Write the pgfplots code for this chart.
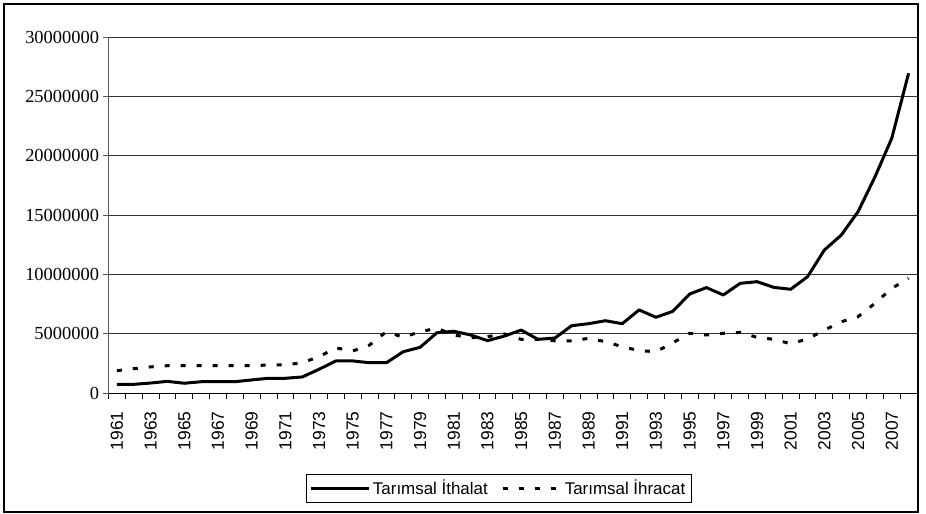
\documentclass[border=0pt]{standalone}
\usepackage{fontspec}
\setmainfont{Liberation Serif}
\setsansfont{Liberation Sans}
\usepackage{pgfplots}
\usepackage{pgfplotstable}
\pgfplotsset{compat=1.18}

\pgfplotstableread{
year ithalat ihracat
1961 730000 1880000
1962 730000 2050000
1963 840000 2200000
1964 980000 2300000
1965 820000 2300000
1966 950000 2300000
1967 950000 2300000
1968 950000 2300000
1969 1100000 2300000
1970 1240000 2360000
1971 1240000 2360000
1972 1350000 2550000
1973 2000000 3060000
1974 2700000 3800000
1975 2700000 3540000
1976 2550000 4040000
1977 2550000 5170000
1978 3480000 4690000
1979 3850000 5170000
1980 5080000 5450000
1981 5200000 4890000
1982 4890000 4660000
1983 4410000 4750000
1984 4800000 4970000
1985 5300000 4520000
1986 4520000 4520000
1987 4630000 4400000
1988 5670000 4400000
1989 5840000 4600000
1990 6090000 4330000
1991 5840000 3900000
1992 7000000 3570000
1993 6380000 3480000
1994 6880000 4230000
1995 8340000 5030000
1996 8880000 4890000
1997 8260000 5030000
1998 9240000 5110000
1999 9380000 4690000
2000 8900000 4520000
2001 8740000 4150000
2002 9800000 4550000
2003 12050000 5300000
2004 13300000 6000000
2005 15280000 6430000
2006 18200000 7550000
2007 21460000 8820000
2008 26940000 9660000
}\datatable

\begin{document}
\begin{tikzpicture}[x=1bp,y=1bp]
\path[use as bounding box] (0,0) rectangle (926,514);
\draw[line width=1.3bp] (4,2) rectangle (918,510);
\begin{axis}[
  at={(108.5bp,121bp)}, anchor=south west,
  scale only axis, width=808.5bp, height=356bp,
  xmin=1960.5, xmax=2008.5,
  ymin=0, ymax=30000000,
  scaled y ticks=false,
  axis x line*=bottom, axis y line*=left,
  x axis line style={black, line width=0.9bp, -},
  y axis line style={black!65, line width=0.9bp, -},
  tick align=outside,
  xtick={1961,1963,...,2007},
  xticklabels={1961,1963,1965,1967,1969,1971,1973,1975,1977,1979,1981,1983,1985,1987,1989,1991,1993,1995,1997,1999,2001,2003,2005,2007},
  minor xtick={1960.5,1961.5,...,2008.5},
  major x tick style={draw=none},
  minor x tick style={draw=black, line width=0.8bp},
  minor tick length=6bp,
  major tick length=6bp,
  ytick={0,5000000,10000000,15000000,20000000,25000000,30000000},
  yticklabels={0,5000000,10000000,15000000,20000000,25000000,30000000},
  ytick style={draw=black!65, line width=0.8bp},
  ymajorgrids,
  grid style={black!80, line width=0.8bp},
  xticklabel shift=9bp,
  xticklabel style={rotate=90, anchor=east, font=\sffamily\fontsize{17.5}{17.5}\selectfont},
  yticklabel style={font=\rmfamily\fontsize{18.5}{18.5}\selectfont},
  legend columns=2,
  legend style={at={(0.4825,-0.267)}, anchor=center, draw=black, line width=0.8bp,
    font=\sffamily\fontsize{17}{17}\selectfont, inner xsep=4bp, inner ysep=4bp,
    /tikz/every even column/.append style={column sep=12bp}},
  legend image code/.code={\draw[#1] (0bp,0bp) -- (58bp,0bp);},
  clip=false,
]
\addplot[black, line width=3bp, line join=round] table[x=year, y=ithalat] {\datatable};
\addlegendentry{Tarımsal İthalat}
\addplot[black, line width=3bp, dash pattern=on 5bp off 11bp] table[x=year, y=ihracat] {\datatable};
\addlegendentry{Tarımsal İhracat}
\end{axis}
\end{tikzpicture}
\end{document}
